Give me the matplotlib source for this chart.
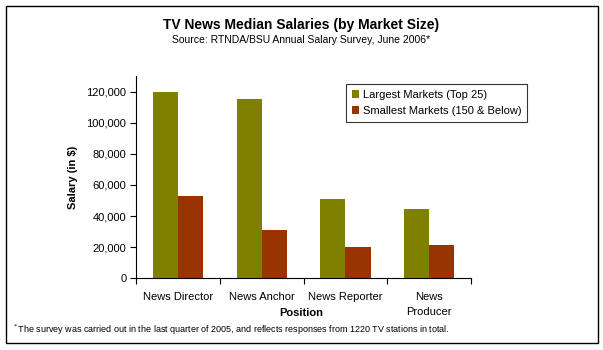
import matplotlib
matplotlib.use("Agg")
import matplotlib.pyplot as plt
from matplotlib.patches import Rectangle
from matplotlib import font_manager
import numpy as np

positions = ["News Director", "News Anchor", "News Reporter", "News\nProducer"]
largest = [120000, 115000, 51000, 44500]
smallest = [53000, 31000, 20000, 21500]
series_names = ["Largest Markets (Top 25)", "Smallest Markets (150 & Below)"]
yticks = [0, 20000, 40000, 60000, 80000, 100000, 120000]

names = {f.name for f in font_manager.fontManager.ttflist}
narrow = "Liberation Sans Narrow" if "Liberation Sans Narrow" in names else "Liberation Sans"
plt.rcParams["font.family"] = ["Liberation Sans", "DejaVu Sans"]

W, H = 603, 350
fig = plt.figure(figsize=(W / 100, H / 100), dpi=100)

def fx(px):
    return px / W

def fy(py):
    return 1 - py / H

ax = fig.add_axes([fx(136), fy(278.3), fx(471) - fx(136), fy(76) - fy(278.3)])

x = np.arange(len(positions))
bw = 0.3
ax.bar(x - bw / 2, largest, width=bw, color="#808000", label=series_names[0])
ax.bar(x + bw / 2, smallest, width=bw, color="#993300", label=series_names[1])

ax.set_xlim(-0.5, len(positions) - 0.5)
ax.set_ylim(0, 130000)
ax.set_yticks(yticks)
ax.set_yticklabels([f"{v:,}" for v in yticks], fontsize=8)
ax.set_xticks(np.arange(len(positions) + 1) - 0.5)
ax.set_xticklabels([])
ax.set_xticks(x, minor=True)
ax.set_xticklabels(positions, minor=True, fontsize=8, linespacing=1.6)
ax.tick_params(axis="x", which="minor", length=0, pad=10)
ax.tick_params(axis="x", which="major", length=4, width=0.8, direction="out")
ax.tick_params(axis="y", length=4, width=0.8, direction="out", pad=3)
for s in ["top", "right"]:
    ax.spines[s].set_visible(False)
for s in ["left", "bottom"]:
    ax.spines[s].set_linewidth(0.8)

ax.set_ylabel("Salary (in $)", fontsize=8, fontweight="bold", labelpad=6)
fig.text(fx(301), fy(313), "Position", ha="center", va="center", fontsize=8, fontweight="bold")

leg = ax.legend(loc="upper left", bbox_to_anchor=((346 - 136) / (471 - 136), 1 - (84 - 76) / (278.3 - 76)),
                fontsize=8, frameon=True, fancybox=False, edgecolor="black",
                handlelength=0.7, handleheight=0.7, handletextpad=0.3,
                borderpad=0.5, labelspacing=0.6, borderaxespad=0)
leg.get_frame().set_linewidth(0.8)

fig.text(fx(301), fy(25), "TV News Median Salaries (by Market Size)", ha="center", va="center",
         fontsize=10, fontweight="bold")
fig.text(fx(301), fy(40), "Source: RTNDA/BSU Annual Salary Survey, June 2006*", ha="center", va="center",
         fontsize=7.5)
fig.text(fx(12), fy(330), "$^*$The survey was carried out in the last quarter of 2005, and reflects responses from 1220 TV stations in total.",
         ha="left", va="center", fontsize=6.5, family=narrow)

fig.patches.append(Rectangle((fx(5.5), fy(343)), fx(598) - fx(5.5), fy(6) - fy(343),
                             transform=fig.transFigure, fill=False, edgecolor="black", linewidth=1))

fig.savefig("out.png", dpi=100)
